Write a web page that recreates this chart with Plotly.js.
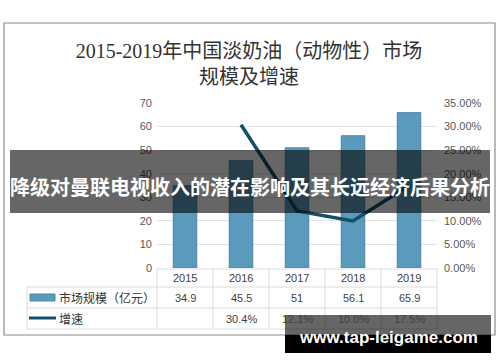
<!DOCTYPE html>
<html><head><meta charset="utf-8">
<script src="https://cdn.plot.ly/plotly-3.0.1.min.js"></script>
<style>body{margin:0;background:#fff}#c{width:500px;height:362px}</style>
</head><body><div id="c"></div>
<script>
const years = ['2015','2016','2017','2018','2019'];
const marketSize = [34.9, 45.5, 51, 56.1, 65.9];
const growth = [null, 0.304, 0.121, 0.100, 0.175];
const sizeLabels = ['34.9','45.5','51','56.1','65.9'];
const growthLabels = ['','30.4%','12.1%','10.0%','17.5%'];
const seriesNames = ['市场规模（亿元）','增速'];
const titleText = '2015-2019年中国淡奶油（动物性）市场<br>规模及增速';
const bannerText = '降级对曼联电视收入的潜在影响及其长远经济后果分析';
const watermarkText = 'www.tap-leigame.com';

// plot area in px: x 157..437, y 103..268
const L=157, R=437, T=103, B=268, W=500, H=362;
const px = X => (X-L)/(R-L);
const py = Y => (B-Y)/(B-T);

const tickFont = {family:'Liberation Sans, Arial, sans-serif', size:11, color:'#595959'};
const cellFont = {family:'Liberation Sans, Arial, sans-serif', size:11, color:'#404040'};
const labelFont = {family:'Noto Sans CJK SC, sans-serif', size:12, color:'#333'};

const shapes = [];
const annotations = [];
const gridC = '#dcdcdc';
// outer frame
shapes.push({type:'rect', xref:'paper', yref:'paper', x0:px(4), x1:px(495), y0:py(23), y1:py(335), line:{color:'#8a8a8a', width:1.2}, layer:'below'});
// table lines
const rowY = [269, 287, 308, 329];
shapes.push({type:'line', xref:'paper', yref:'paper', x0:px(L), x1:px(R), y0:py(rowY[0]), y1:py(rowY[0]), line:{color:gridC,width:1}});
for (let i=1;i<rowY.length;i++) shapes.push({type:'line', xref:'paper', yref:'paper', x0:px(27), x1:px(R), y0:py(rowY[i]), y1:py(rowY[i]), line:{color:gridC,width:1}});
shapes.push({type:'line', xref:'paper', yref:'paper', x0:px(27), x1:px(27), y0:py(rowY[1]), y1:py(rowY[3]), line:{color:gridC,width:1}});
for (let i=0;i<=years.length;i++){
  const X = L + i*(R-L)/years.length;
  shapes.push({type:'line', xref:'paper', yref:'paper', x0:px(X), x1:px(X), y0:py(rowY[0]), y1:py(rowY[3]), line:{color:gridC,width:1}});
}
// legend swatches
shapes.push({type:'rect', xref:'paper', yref:'paper', x0:px(30), x1:px(55), y0:py(301), y1:py(294), fillcolor:'#5a9bbd', line:{color:'#4a85a3', width:1}});
shapes.push({type:'line', xref:'paper', yref:'paper', x0:px(29), x1:px(56), y0:py(318), y1:py(318), line:{color:'#10506a', width:3}});
// banner overlay
shapes.push({type:'rect', xref:'paper', yref:'paper', x0:px(10), x1:px(490), y0:py(213), y1:py(150), fillcolor:'rgba(0,0,0,0.6)', line:{width:0}, layer:'above'});
// watermark
shapes.push({type:'rect', xref:'paper', yref:'paper', x0:px(285), x1:px(491), y0:py(335), y1:py(315), fillcolor:'rgba(0,0,0,0.6)', line:{width:0}, layer:'above'});
shapes.push({type:'rect', xref:'paper', yref:'paper', x0:px(285), x1:px(491), y0:py(353), y1:py(335), fillcolor:'#000', line:{width:0}, layer:'above'});

// table cells
const rowC = [278, 297.5, 318.5];
const cell = (x, xref, xa, Y, text, font) => ({x:x, xref:xref, xanchor:xa, y:py(Y), yref:'paper', yanchor:'middle', text:text, showarrow:false, font:font});
years.forEach((y,i)=>{
  annotations.push(cell(i, 'x', 'center', rowC[0], y, cellFont));
  annotations.push(cell(i, 'x', 'center', rowC[1], sizeLabels[i], cellFont));
  if (growthLabels[i]) annotations.push(cell(i, 'x', 'center', rowC[2], growthLabels[i], cellFont));
});
annotations.push(cell(px(57), 'paper', 'left', rowC[1], seriesNames[0], labelFont));
annotations.push(cell(px(57), 'paper', 'left', rowC[2], seriesNames[1], labelFont));
annotations.push(cell(px(250), 'paper', 'center', 186, '<b>'+bannerText+'</b>', {family:'Noto Sans CJK SC, sans-serif', size:20, color:'#fff'}));
annotations.push(cell(px(388), 'paper', 'center', 337, '<b>'+watermarkText+'</b>', {family:'Liberation Sans, Arial, sans-serif', size:17, color:'#fff'}));

const data = [
  {type:'bar', x:[0,1,2,3,4], y:marketSize, name:seriesNames[0], width:0.42,
   marker:{color:'#5a9bbd', line:{color:'#4a85a3', width:1}}, hoverinfo:'skip'},
  {type:'scatter', mode:'lines', x:[0,1,2,3,4], y:growth, yaxis:'y2', name:seriesNames[1],
   line:{color:'#10506a', width:3.5}, connectgaps:false, hoverinfo:'skip'}
];

const layout = {
  width:W, height:H, paper_bgcolor:'#fff', plot_bgcolor:'rgba(0,0,0,0)',
  margin:{l:L, r:W-R, t:T, b:H-B}, showlegend:false,
  title:{text:titleText, x:249/W, xanchor:'center', xref:'container', y:1-58/H, yanchor:'middle', yref:'container',
         font:{family:'Liberation Serif, Noto Sans CJK SC, serif', size:20, color:'#333'}},
  xaxis:{range:[-0.5,4.5], showticklabels:false, showgrid:false, zeroline:false, showline:false, ticks:'', fixedrange:true},
  yaxis:{range:[0,70], dtick:10, showgrid:true, gridcolor:'#e3e3e3', gridwidth:1, zeroline:false, showline:false,
         tickfont:tickFont, ticks:'', ticklabelstandoff:4},
  yaxis2:{range:[0,0.35], dtick:0.05, tickformat:'.2%', overlaying:'y', side:'right', showgrid:false, zeroline:false,
          showline:false, tickfont:tickFont, ticks:'', ticklabelstandoff:6},
  shapes:shapes, annotations:annotations
};
Plotly.newPlot('c', data, layout, {staticPlot:true, displayModeBar:false});
</script></body></html>
